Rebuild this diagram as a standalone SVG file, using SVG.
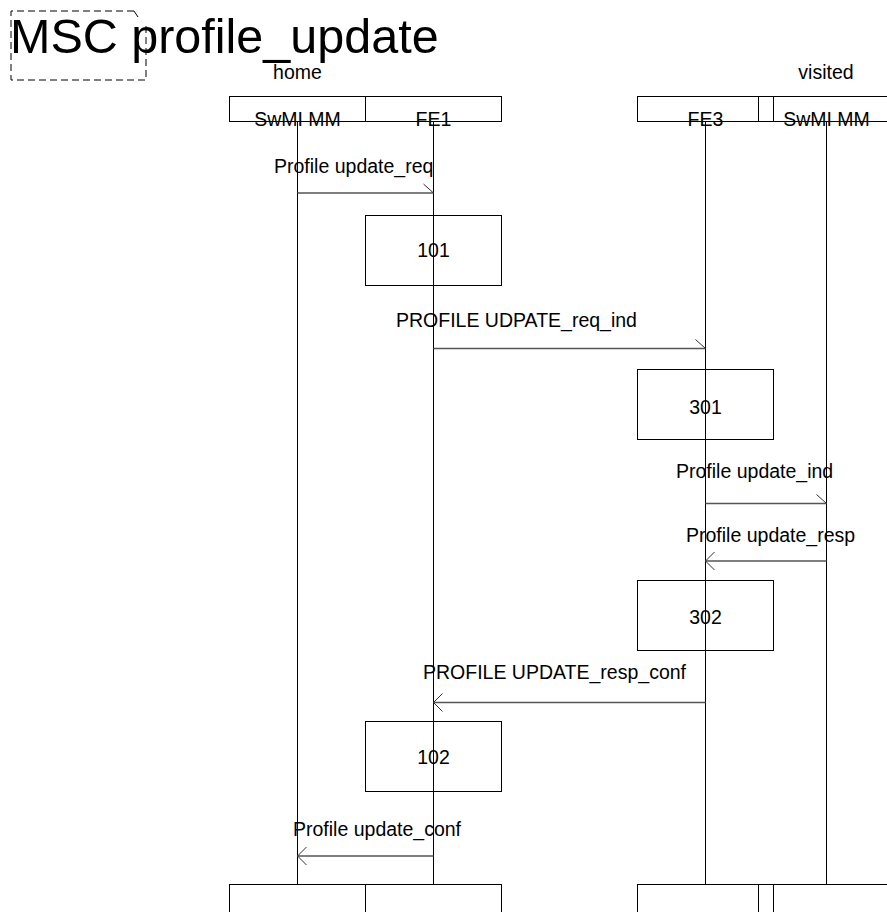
<svg xmlns="http://www.w3.org/2000/svg" width="887" height="912" viewBox="0 0 887 912">
<style>
text{font-family:"Liberation Sans",Arial,sans-serif;font-size:19.5px;fill:#000}
.title{font-size:48.5px}
.mid{text-anchor:middle}
.box{fill:none;stroke:#000;stroke-width:1}
.life{stroke:#000;stroke-width:1}
.msg{stroke:#555;stroke-width:1.6;fill:none}
.head{stroke:#333;stroke-width:1;fill:none}
.frame{fill:none;stroke:#000;stroke-width:1;stroke-dasharray:7,4}
</style>
<rect width="887" height="912" fill="#fff"/>
<g id="frame">
<path class="frame" d="M134,11 H11 V80 H146 V23"/>
<path d="M134,11 L138,17" stroke="#000" stroke-width="1"/>
<text class="title" x="10" y="53">MSC profile_update</text>
</g>
<g id="labels">
<text class="mid" x="297.5" y="79">home</text>
<text class="mid" x="826" y="79">visited</text>
</g>
<g id="lifelines">
<line class="life" x1="297.5" y1="122" x2="297.5" y2="884"/>
<line class="life" x1="433.5" y1="122" x2="433.5" y2="884"/>
<line class="life" x1="705.5" y1="122" x2="705.5" y2="884"/>
<line class="life" x1="826.5" y1="122" x2="826.5" y2="884"/>
</g>
<g id="SwMI_MM_home">
<rect class="box" x="229.5" y="96.5" width="136" height="25"/>
<text class="mid" x="297.5" y="126">SwMI MM</text>
<rect class="box" x="229.5" y="884.5" width="136" height="40"/>
</g>
<g id="FE1">
<rect class="box" x="365.5" y="96.5" width="136" height="25"/>
<text class="mid" x="433.5" y="126">FE1</text>
<rect class="box" x="365.5" y="884.5" width="136" height="40"/>
</g>
<g id="FE3">
<rect class="box" x="637.5" y="96.5" width="121" height="25"/>
<text class="mid" x="705.5" y="126">FE3</text>
<rect class="box" x="637.5" y="884.5" width="121" height="40"/>
</g>
<g id="sep">
<rect class="box" x="758.5" y="96.5" width="15" height="25"/>
<rect class="box" x="758.5" y="884.5" width="15" height="40"/>
</g>
<g id="SwMI_MM_visited">
<rect class="box" x="773.5" y="96.5" width="140" height="25"/>
<text class="mid" x="826.5" y="126">SwMI MM</text>
<rect class="box" x="773.5" y="884.5" width="140" height="40"/>
</g>
<g id="box101">
<rect class="box" x="365.5" y="215.5" width="136" height="70"/>
<text class="mid" x="433.5" y="257">101</text>
</g>
<g id="box301">
<rect class="box" x="637.5" y="369.5" width="136" height="70"/>
<text class="mid" x="705.5" y="414">301</text>
</g>
<g id="box302">
<rect class="box" x="637.5" y="580.5" width="136" height="70"/>
<text class="mid" x="705.5" y="624">302</text>
</g>
<g id="box102">
<rect class="box" x="365.5" y="721.5" width="136" height="70"/>
<text class="mid" x="433.5" y="764">102</text>
</g>
<g id="connectors">
<line class="msg" x1="297.5" y1="193" x2="433.5" y2="193"/>
<path class="head" d="M423.5,184 L433.5,193"/>
<text x="274" y="173">Profile update_req</text>

<line class="msg" x1="433.5" y1="348.5" x2="705.5" y2="348.5"/>
<path class="head" d="M695.5,339.5 L705.5,348.5"/>
<text x="396" y="327">PROFILE UDPATE_req_ind</text>

<line class="msg" x1="705.5" y1="503.5" x2="826.5" y2="503.5"/>
<path class="head" d="M816.5,494.5 L826.5,503.5"/>
<text x="676" y="478">Profile update_ind</text>

<line class="msg" x1="826.5" y1="561" x2="705.5" y2="561"/>
<path class="head" d="M714.5,552 L705.5,561 L714.5,570"/>
<text x="686" y="542">Profile update_resp</text>

<line class="msg" x1="705.5" y1="702.5" x2="433.5" y2="702.5"/>
<path class="head" d="M442.5,693.5 L433.5,702.5 L442.5,711.5"/>
<text x="423" y="679">PROFILE UPDATE_resp_conf</text>

<line class="msg" x1="433.5" y1="856" x2="297.5" y2="856"/>
<path class="head" d="M306.5,847 L297.5,856 L306.5,865"/>
<text x="293" y="836">Profile update_conf</text>
</g>
</svg>
